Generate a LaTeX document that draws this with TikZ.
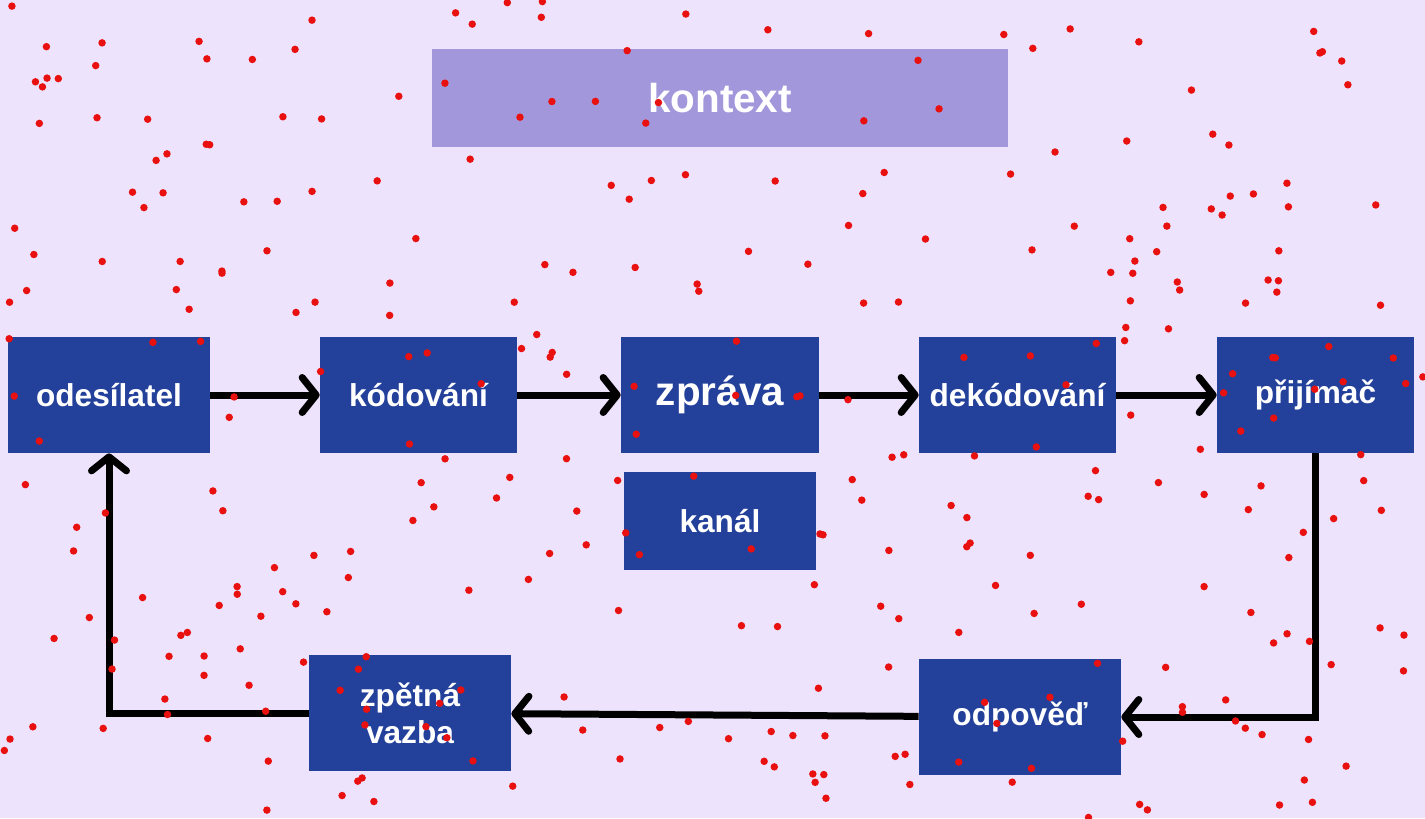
\documentclass[tikz,border=0pt]{standalone}
\usepackage{fontspec}
\setmainfont{Liberation Sans}
\usetikzlibrary{arrows.meta}
\definecolor{bg}{HTML}{EEE3FD}
\definecolor{boxblue}{HTML}{23409A}
\definecolor{ctx}{HTML}{A397DC}
\definecolor{dotred}{HTML}{E8110F}
\tikzset{
  box/.style={fill=boxblue, text=white, font=\bfseries\fontsize{18}{21}\selectfont,
    minimum width=3.94cm, minimum height=2.32cm, inner sep=0pt, align=center},
  arr/.style={line width=0.14cm, -{Straight Barb[length=0.28cm,width=0.7cm,round]}},
  dot/.style={fill=dotred}
}
\begin{document}
\begin{tikzpicture}[x=0.02cm,y=-0.02cm]
\fill[bg] (0,0) rectangle (1425,818);
\useasboundingbox (0,0) rectangle (1425,818);
\node[fill=ctx, text=white, font=\bfseries\fontsize{23}{27}\selectfont,
  minimum width=11.52cm, minimum height=1.96cm] (k) at (720,98) {kontext};
\node[box, minimum width=4.04cm] (a) at (109,395) {odesílatel};
\node[box] (b) at (418.5,395) {kódování};
\node[box, font=\bfseries\fontsize{23}{27}\selectfont, minimum width=3.96cm] (c) at (720,395) {zpráva};
\node[box] (d) at (1017.5,395) {dekódování};
\node[box] (e) at (1315.5,395) {přijímač};
\node[box, minimum width=3.84cm, minimum height=1.96cm] (f) at (720,521) {kanál};
\node[box, minimum width=4.04cm] (g) at (1020,717) {odpověď};
\node[box, minimum width=4.04cm] (h) at (410,713) {zpětná\\vazba};
\draw[arr] (a) -- (b);
\draw[arr] (b) -- (c);
\draw[arr] (c) -- (d);
\draw[arr] (d) -- (e);
\draw[arr] (e.south) |- (g.east);
\draw[arr] (g) -- (h);
\draw[arr] (h.west) -| (a.south);
\pgfmathsetseed{4711}
\foreach \i in {1,...,330}
  \fill[dot] (rnd*1425, rnd*818) circle (0.075cm);
\end{tikzpicture}
\end{document}
